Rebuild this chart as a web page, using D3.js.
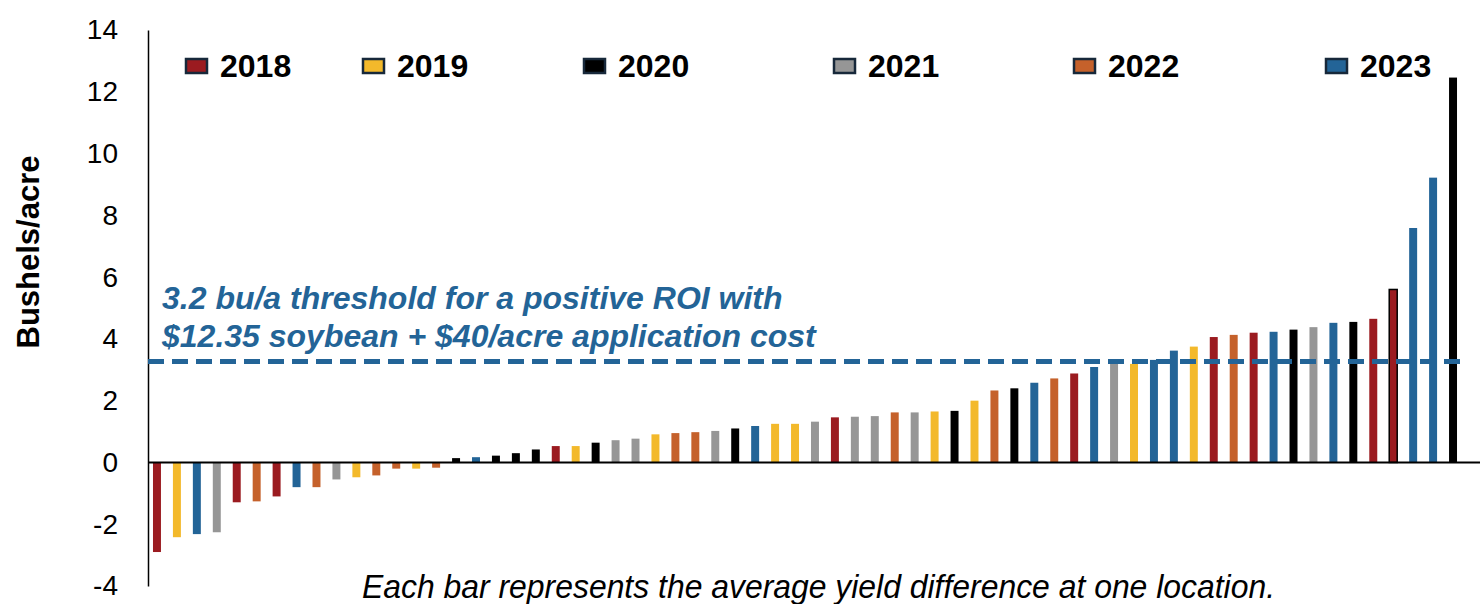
<html>
<head>
<meta charset="utf-8">
<script src="https://d3js.org/d3.v7.min.js"></script>
<style>
  body { margin: 0; background: #fff; font-family: "Liberation Sans", Arial, sans-serif; }
</style>
</head>
<body>
<svg width="1480" height="604"></svg>
<script>
// legend / colour key
var years = ["2018", "2019", "2020", "2021", "2022", "2023"];
var yearColors = ["#9b1b20", "#f3b92b", "#000000", "#969696", "#c5612b", "#236497"];

// one bar per location, sorted by yield difference (bu/acre)
var barYears = ["2018","2019","2023","2021","2018","2022","2018","2023","2022","2021",
                "2019","2022","2022","2019","2022","2020","2023","2020","2020","2020",
                "2018","2019","2020","2021","2021","2019","2022","2022","2021","2020",
                "2023","2019","2019","2021","2018","2021","2021","2022","2021","2019",
                "2020","2019","2022","2020","2023","2022","2018","2023","2021","2019",
                "2023","2023","2019","2018","2022","2018","2023","2020","2021","2023",
                "2020","2018","2018","2023","2023","2020"];
var barValues = [-2.9, -2.42, -2.32, -2.26, -1.29, -1.26, -1.1, -0.8, -0.8, -0.55,
                 -0.48, -0.42, -0.2, -0.2, -0.17, 0.14, 0.17, 0.22, 0.3, 0.42,
                 0.53, 0.53, 0.64, 0.72, 0.77, 0.91, 0.95, 0.98, 1.02, 1.1,
                 1.18, 1.25, 1.25, 1.32, 1.46, 1.48, 1.5, 1.62, 1.62, 1.65,
                 1.67, 2.0, 2.33, 2.4, 2.58, 2.72, 2.88, 3.09, 3.2, 3.19,
                 3.32, 3.62, 3.75, 4.06, 4.13, 4.2, 4.23, 4.3, 4.38, 4.52,
                 4.55, 4.65, 5.6, 7.59, 9.22, 12.46];
var outlinedBar = 62; // the 5.6 bar has a black border

var yTicks = [-4, -2, 0, 2, 4, 6, 8, 10, 12, 14];
var threshold = 3.27; // drawn a touch above 3.2 in the original

var legendX = [186, 363, 584, 834, 1074, 1326];

var svg = d3.select("svg");
var font = "'Liberation Sans', Arial, sans-serif";

var x = d3.scaleBand()
    .domain(d3.range(barValues.length))
    .range([147, 1463])
    .paddingInner(0.6)
    .paddingOuter(0.3);

var y = d3.scaleLinear()
    .domain([-4, 14])
    .range([586, 30]);

var color = d3.scaleOrdinal().domain(years).range(yearColors);

// y axis
var yAxis = svg.append("g")
    .attr("transform", "translate(148,0)")
    .call(d3.axisLeft(y)
        .tickValues(yTicks)
        .tickFormat(function(d) { return String(d); })
        .tickSize(0).tickSizeOuter(0).tickPadding(30));
yAxis.select(".domain").attr("stroke", "#000").attr("stroke-width", 1.5);
yAxis.selectAll("text")
    .attr("font-family", font)
    .attr("font-size", 28)
    .attr("fill", "#000");

svg.append("text")
    .attr("transform", "translate(39,252) rotate(-90)")
    .attr("text-anchor", "middle")
    .attr("font-family", font)
    .attr("font-weight", "bold")
    .attr("font-size", 31)
    .text("Bushels/acre");

// bars
svg.append("g").selectAll("rect")
    .data(barValues)
    .enter()
    .append("rect")
    .attr("x", function(d, i) { return x(i); })
    .attr("y", function(d) { return y(Math.max(0, d)); })
    .attr("width", x.bandwidth())
    .attr("height", function(d) { return Math.abs(y(d) - y(0)); })
    .attr("fill", function(d, i) { return color(barYears[i]); })
    .attr("stroke", function(d, i) { return i == outlinedBar ? "#000" : "none"; })
    .attr("stroke-width", 1.5);

// zero line
svg.append("line")
    .attr("x1", 148).attr("x2", 1480)
    .attr("y1", y(0)).attr("y2", y(0))
    .attr("stroke", "#000")
    .attr("stroke-width", 2);

// threshold
svg.append("line")
    .attr("x1", 148).attr("x2", 1460)
    .attr("y1", y(threshold)).attr("y2", y(threshold))
    .attr("stroke", "#236497")
    .attr("stroke-width", 5)
    .attr("stroke-dasharray", "16,8");

var note = svg.append("text")
    .attr("font-family", font)
    .attr("font-weight", "bold")
    .attr("font-style", "italic")
    .attr("font-size", 32)
    .attr("fill", "#236497");
note.append("tspan").attr("x", 162).attr("y", 309).text("3.2 bu/a threshold for a positive ROI with");
note.append("tspan").attr("x", 162).attr("y", 347).text("$12.35 soybean + $40/acre application cost");

// legend
var legend = svg.append("g").selectAll("g")
    .data(years)
    .enter()
    .append("g")
    .attr("transform", function(d, i) { return "translate(" + legendX[i] + ",0)"; });

legend.append("rect")
    .attr("x", 0).attr("y", 59)
    .attr("width", 21).attr("height", 14)
    .attr("fill", function(d) { return color(d); })
    .attr("stroke", "#17283a")
    .attr("stroke-width", 2.5);

legend.append("text")
    .attr("x", 34).attr("y", 77)
    .attr("font-family", font)
    .attr("font-weight", "bold")
    .attr("font-size", 32)
    .text(function(d) { return d; });

svg.append("text")
    .attr("x", 362).attr("y", 598)
    .attr("font-family", font)
    .attr("font-style", "italic")
    .attr("font-size", 33)
    .attr("textLength", 913)
    .attr("lengthAdjust", "spacingAndGlyphs")
    .text("Each bar represents the average yield difference at one location.");
</script>
</body>
</html>
